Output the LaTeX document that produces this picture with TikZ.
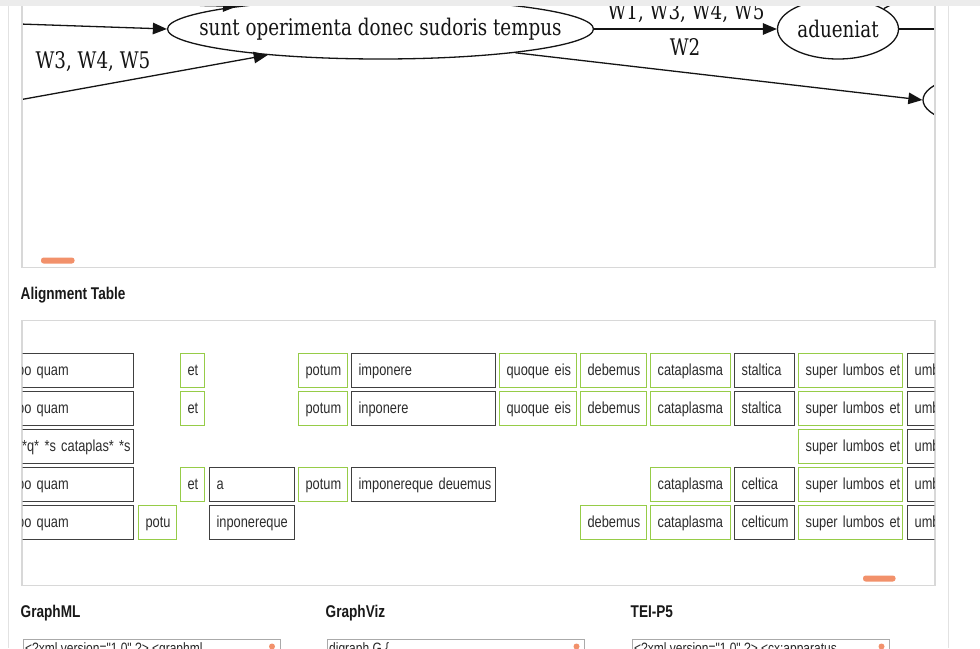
\documentclass[tikz,border=0pt]{standalone}
\usepackage{fontspec}
\setmainfont{Liberation Sans}
\newfontfamily\uisans[FakeStretch=0.8]{Liberation Sans}
\newfontfamily\gvserif[FakeStretch=0.8]{DejaVu Serif}
\usetikzlibrary{shapes.geometric,arrows.meta}
\definecolor{panelline}{RGB}{216,216,216}
\definecolor{pageline}{RGB}{226,226,226}
\definecolor{topbar}{RGB}{236,236,236}
\definecolor{scrollor}{RGB}{242,145,107}
\definecolor{limegreen}{RGB}{150,204,72}
\definecolor{darkborder}{RGB}{64,64,64}
\definecolor{celltext}{RGB}{45,45,45}
\definecolor{boxline}{RGB}{170,170,170}
\definecolor{gvink}{RGB}{20,20,20}

\newcommand\tcell[6]{%
  \pgfmathsetmacro\tcw{#4-#3-15}%
  \node[cellbase,#2,text width=\tcw pt,anchor=north west] (#1) at (#3,#5) {\mbox{#6}};}

\begin{document}
\begin{tikzpicture}[x=1pt,y=-1pt,
  gvnode/.style={ellipse, draw=gvink, line width=1.3pt, inner xsep=-60pt, inner ysep=-5pt, text=gvink,
    font=\gvserif\fontsize{22.9}{26}\selectfont},
  gvedge/.style={draw=gvink, line width=1.3pt, -{Triangle[length=14pt,width=11.5pt]}},
  gvline/.style={draw=gvink, line width=1.3pt},
  gvlabel/.style={font=\gvserif\fontsize{22.9}{26}\selectfont, text=gvink, inner sep=0pt},
  panel/.style={draw=panelline, line width=1.3pt},
  hdr/.style={font=\uisans\bfseries\fontsize{17}{19}\selectfont, text=black!90, inner sep=0pt, anchor=base west},
  cellbase/.style={draw, line width=1.3pt, inner xsep=7.5pt, inner ysep=0pt, minimum height=34pt,
    text height=12pt, text depth=2pt, font=\uisans\fontsize{16}{18}\selectfont, text=celltext, align=left},
  greencell/.style={draw=limegreen, line width=1.25pt},
  blackcell/.style={draw=darkborder},
  txtbox/.style={draw=boxline, line width=1pt, anchor=north west, minimum width=257.5pt, minimum height=40pt, inner sep=0pt},
  boxtext/.style={font=\uisans\fontsize{15}{17}\selectfont, text=black!85, inner sep=0pt, anchor=north west},
  scrollbar/.style={fill=scrollor, rounded corners=2.6pt}
]
\useasboundingbox (0,0) rectangle (980,648);
\clip (0,0) rectangle (980,648);
\fill[white] (0,0) rectangle (980,648);

% ---------- graph panel ----------
\begin{scope}
  \clip (22.6,6) rectangle (934.4,266.8);
  \node[gvnode, minimum width=426pt, minimum height=60pt] (sunt) at (380.5,29) {sunt operimenta donec sudoris tempus};
  \node[gvnode, inner xsep=-20pt, minimum width=121pt, minimum height=60pt] (adu) at (838,29) {adueniat};
  \node[gvnode, minimum width=180pt, minimum height=60pt] (nxt) at (1013,100) {};
  \coordinate (in1) at (5,23.5);
  \coordinate (in2) at (200,5.5);
  \coordinate (in3) at (5,102.5);
  \coordinate (out1) at (960,29);
  \coordinate (out2) at (915,-8);
  \draw[gvedge] (in1) -- (sunt.west);
  \draw[gvedge] (in2) -- (sunt.171);
  \draw[gvedge] (in3) -- (sunt.193.5);
  \draw[gvedge] (sunt.east) -- (adu.west);
  \draw[gvedge] (sunt.350.8) -- (nxt.west);
  \draw[gvline] (adu.east) -- (out1);
  \draw[gvline] (adu.24) -- (out2);
  \node[gvlabel] (lab345) at (93,62) {W3, W4, W5};
  \node[gvlabel] (lab1345) at (686,13) {W1, W3, W4, W5};
  \node[gvlabel] (lab2) at (685,47) {W2};
\end{scope}
\fill[scrollbar] (41,257.5) rectangle (74.5,263.5);
\draw[panel] (22,-2) rectangle (935,267.4);

% top bar and page lines
\fill[topbar] (0,0) rectangle (980,6.3);
\draw[pageline, line width=1.5pt] (8.5,6.3) -- (8.5,648);
\draw[pageline, line width=1.5pt] (948.5,6.3) -- (948.5,648);

% ---------- alignment table ----------
\node[hdr] (alhdr) at (20.5,299) {Alignment Table};
\draw[panel] (22,320.5) rectangle (935,585.4);
\begin{scope}
  \clip (22.6,321.2) rectangle (934.4,584.7);
  % row 1
  \tcell{r1a}{blackcell}{9}{133}{353}{po quam}
  \tcell{r1e}{greencell}{179.5}{204}{353}{et}
  \tcell{r1pt}{greencell}{297.5}{347}{353}{potum}
  \tcell{r1im}{blackcell}{350.5}{495}{353}{imponere}
  \tcell{r1q}{greencell}{498.5}{576}{353}{quoque eis}
  \tcell{r1d}{greencell}{579.5}{646}{353}{debemus}
  \tcell{r1c}{greencell}{649.5}{730}{353}{cataplasma}
  \tcell{r1s}{blackcell}{733.5}{794}{353}{staltica}
  \tcell{r1sl}{greencell}{797.5}{902}{353}{super lumbos et}
  \tcell{r1u}{blackcell}{906.5}{990}{353}{umbilicum}
  % row 2
  \tcell{r2a}{blackcell}{9}{133}{391}{po quam}
  \tcell{r2e}{greencell}{179.5}{204}{391}{et}
  \tcell{r2pt}{greencell}{297.5}{347}{391}{potum}
  \tcell{r2im}{blackcell}{350.5}{495}{391}{inponere}
  \tcell{r2q}{greencell}{498.5}{576}{391}{quoque eis}
  \tcell{r2d}{greencell}{579.5}{646}{391}{debemus}
  \tcell{r2c}{greencell}{649.5}{730}{391}{cataplasma}
  \tcell{r2s}{blackcell}{733.5}{794}{391}{staltica}
  \tcell{r2sl}{greencell}{797.5}{902}{391}{super lumbos et}
  \tcell{r2u}{blackcell}{906.5}{990}{391}{umbilicum}
  % row 3
  \tcell{r3a}{blackcell,align=right}{9}{133}{429}{**q* *s cataplas* *s}
  \tcell{r3sl}{greencell}{797.5}{902}{429}{super lumbos et}
  \tcell{r3u}{blackcell}{906.5}{990}{429}{umbilicum}
  % row 4
  \tcell{r4a}{blackcell}{9}{133}{467}{po quam}
  \tcell{r4e}{greencell}{179.5}{204}{467}{et}
  \tcell{r4aa}{blackcell}{208.5}{294}{467}{a}
  \tcell{r4pt}{greencell}{297.5}{347}{467}{potum}
  \tcell{r4im}{blackcell}{350.5}{495}{467}{imponereque deuemus}
  \tcell{r4c}{greencell}{649.5}{730}{467}{cataplasma}
  \tcell{r4s}{blackcell}{733.5}{794}{467}{celtica}
  \tcell{r4sl}{greencell}{797.5}{902}{467}{super lumbos et}
  \tcell{r4u}{blackcell}{906.5}{990}{467}{umbilicum}
  % row 5
  \tcell{r5a}{blackcell}{9}{133}{505}{po quam}
  \tcell{r5p}{greencell}{137.5}{176}{505}{potu}
  \tcell{r5aa}{blackcell}{208.5}{294}{505}{inponereque}
  \tcell{r5d}{greencell}{579.5}{646}{505}{debemus}
  \tcell{r5c}{greencell}{649.5}{730}{505}{cataplasma}
  \tcell{r5s}{blackcell}{733.5}{794}{505}{celticum}
  \tcell{r5sl}{greencell}{797.5}{902}{505}{super lumbos et}
  \tcell{r5u}{blackcell}{906.5}{990}{505}{umbilicum}
\end{scope}
\fill[scrollbar] (863,575.5) rectangle (895.5,581.5);

% ---------- export boxes ----------
\node[hdr] (gmlhdr) at (20.5,617) {GraphML};
\node[hdr] (gvhdr) at (325.5,617) {GraphViz};
\node[hdr] (teihdr) at (630.5,617) {TEI-P5};
\node[txtbox] (gmlbox) at (22.5,638.5) {};
\node[txtbox] (gvbox) at (326.5,638.5) {};
\node[txtbox] (teibox) at (631.5,638.5) {};
\node[boxtext] (gmltxt) at (25,642) {<?xml version="1.0" ?> <graphml};
\node[boxtext] (gvtxt) at (329,642) {digraph G \{};
\node[boxtext] (teitxt) at (634,642) {<?xml version="1.0" ?> <cx:apparatus};
\fill[scrollor] (272,646.5) circle (3);
\fill[scrollor] (576.5,646.5) circle (3);
\fill[scrollor] (881.5,646.5) circle (3);
\end{tikzpicture}
\end{document}
